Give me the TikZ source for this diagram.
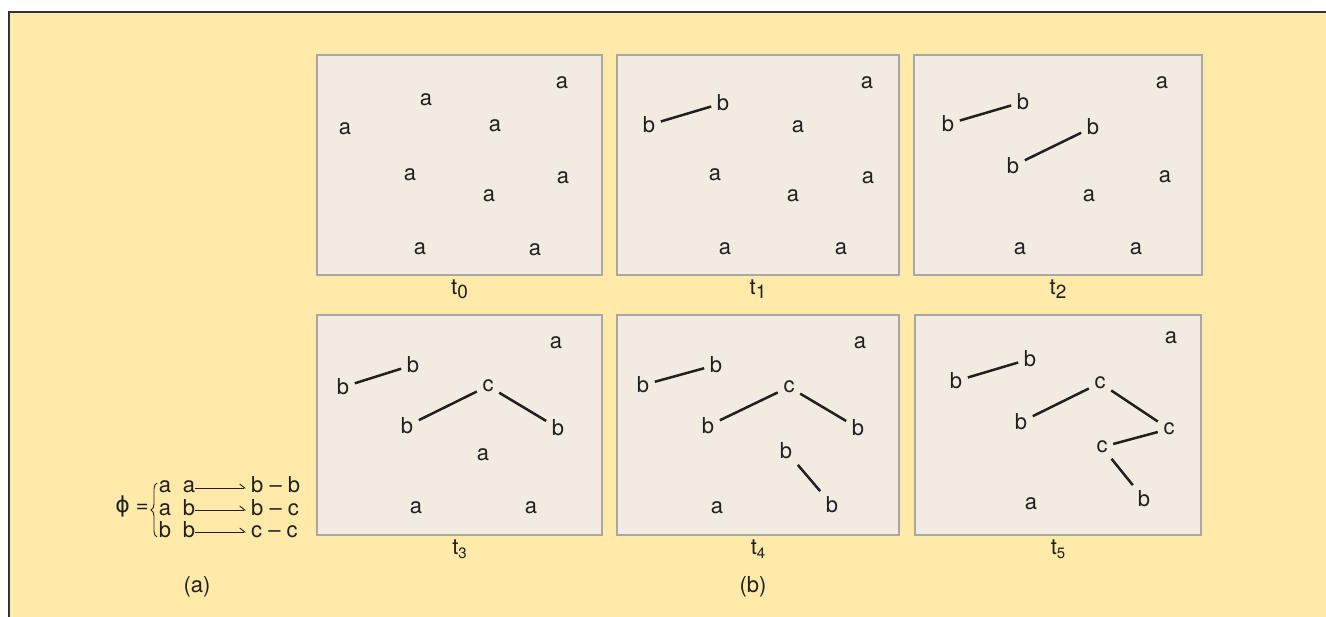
\documentclass[tikz,border=0pt]{standalone}
\usepackage{fontspec}
\setmainfont{TeX Gyre Heros}
\newfontfamily\phifont{DejaVu Sans}
\usepackage{xcolor}
\usetikzlibrary{positioning, arrows.meta, decorations.pathreplacing}

\definecolor{bgyellow}{HTML}{FFEAA9}
\definecolor{panelfill}{HTML}{F1EBE1}
\definecolor{panelgray}{HTML}{A7A7A7}
\definecolor{framegray}{HTML}{333333}
\definecolor{ink}{HTML}{231F20}

\newcommand{\ttag}[2]{t\raisebox{-4pt}{\fontsize{#2}{#2}\selectfont #1}}

\begin{document}
\begin{tikzpicture}[
    x=1pt, y=-1pt,
    panel/.style={draw=panelgray, line width=1.2pt, fill=panelfill, rectangle, inner sep=0pt, minimum height=220pt},
    sym/.style={inner sep=5.5pt, text=ink, font=\fontsize{22}{26}\selectfont},
    tlabel/.style={inner sep=0pt, text=ink, font=\fontsize{22}{26}\selectfont},
    rule/.style={inner sep=0pt, text=ink, font=\fontsize{22}{26}\selectfont, text height=10pt, text depth=0pt},
    bond/.style={draw=ink, line width=2.5pt},
    harp/.style={draw=ink, line width=0.9pt, -{Straight Barb[left, length=5pt, width=8pt]}, shorten >=5pt}
]
\useasboundingbox (0,0) rectangle (1326,617);

% Background and frame
\fill[bgyellow] (9,12) rectangle (1326,617);
\draw[framegray, line width=1.3pt] (1326,12) -- (9,12) -- (9,617);

% Panels
\node (p0) [panel, minimum width=285pt] at (459.5,165) {};
\node (p1) [panel, minimum width=282pt] at (758,165) {};
\node (p2) [panel, minimum width=288pt] at (1058,165) {};
\node (p3) [panel, minimum width=285pt] at (459.5,425) {};
\node (p4) [panel, minimum width=282pt] at (758,425) {};
\node (p5) [panel, minimum width=286pt] at (1058,425) {};

\node (l0) [tlabel, below=4pt of p0] {\ttag{0}{19}};
\node (l1) [tlabel, below=4pt of p1] {\ttag{1}{19}};
\node (l2) [tlabel, below=4pt of p2] {\ttag{2}{19}};
\node (l3) [tlabel, below=4pt of p3] {\ttag{3}{15}};
\node (l4) [tlabel, below=4pt of p4] {\ttag{4}{15}};
\node (l5) [tlabel, below=4pt of p5] {\ttag{5}{15}};

% t0
\node (p0a1) [sym] at (562,83) {a};
\node (p0a2) [sym] at (426,100) {a};
\node (p0a3) [sym] at (345,129) {a};
\node (p0a4) [sym] at (495,126) {a};
\node (p0a5) [sym] at (410,175) {a};
\node (p0a6) [sym] at (563,178) {a};
\node (p0a7) [sym] at (489,196) {a};
\node (p0a8) [sym] at (420,249) {a};
\node (p0a9) [sym] at (535,250) {a};

% t1
\node (p1a1) [sym] at (867,83) {a};
\node (p1b1) [sym] at (649,125) {b};
\node (p1b2) [sym] at (723,103) {b};
\node (p1a2) [sym] at (798,127) {a};
\node (p1a3) [sym] at (715,175) {a};
\node (p1a4) [sym] at (868,178) {a};
\node (p1a5) [sym] at (793,196) {a};
\node (p1a6) [sym] at (725,249) {a};
\node (p1a7) [sym] at (841,249) {a};

% t2
\node (p2a1) [sym] at (1162,83) {a};
\node (p2b1) [sym] at (948,124) {b};
\node (p2b2) [sym] at (1023,102) {b};
\node (p2b3) [sym] at (1013,166) {b};
\node (p2b4) [sym] at (1093,127) {b};
\node (p2a2) [sym] at (1165,177) {a};
\node (p2a3) [sym] at (1089,196) {a};
\node (p2a4) [sym] at (1020,249) {a};
\node (p2a5) [sym] at (1136,249) {a};

% t3
\node (p3a1) [sym] at (556,343) {a};
\node (p3b1) [sym] at (343,387) {b};
\node (p3b2) [sym] at (413,365) {b};
\node (p3c1) [sym] at (488,386) {c};
\node (p3b3) [sym] at (407,426) {b};
\node (p3b4) [sym] at (558,428) {b};
\node (p3a2) [sym] at (483,455) {a};
\node (p3a3) [sym] at (416,508) {a};
\node (p3a4) [sym] at (531,508) {a};

% t4
\node (p4a1) [sym] at (860,343) {a};
\node (p4b1) [sym] at (643,385) {b};
\node (p4b2) [sym] at (716,365) {b};
\node (p4c1) [sym] at (789,387) {c};
\node (p4b3) [sym] at (708,426) {b};
\node (p4b4) [sym] at (858,428) {b};
\node (p4b5) [sym] at (786,451) {b};
\node (p4b6) [sym] at (832,505) {b};
\node (p4a2) [sym] at (717,508) {a};

% t5
\node (p5a1) [sym] at (1171,338) {a};
\node (p5b1) [sym] at (956,381) {b};
\node (p5b2) [sym] at (1030,359) {b};
\node (p5c1) [sym] at (1100,383) {c};
\node (p5b3) [sym] at (1021,422) {b};
\node (p5c2) [sym] at (1169,429) {c};
\node (p5c3) [sym] at (1102,447) {c};
\node (p5b4) [sym] at (1144,499) {b};
\node (p5a2) [sym] at (1031,504) {a};

% Bonds
\draw[bond] (p1b1) -- (p1b2);
\draw[bond] (p2b1) -- (p2b2);
\draw[bond] (p2b3) -- (p2b4);
\draw[bond] (p3b1) -- (p3b2);
\draw[bond] (p3b3) -- (p3c1);
\draw[bond] (p3c1) -- (p3b4);
\draw[bond] (p4b1) -- (p4b2);
\draw[bond] (p4b3) -- (p4c1);
\draw[bond] (p4c1) -- (p4b4);
\draw[bond] (p4b5) -- (p4b6);
\draw[bond] (p5b1) -- (p5b2);
\draw[bond] (p5b3) -- (p5c1);
\draw[bond] (p5c1) -- (p5c2);
\draw[bond] (p5c2) -- (p5c3);
\draw[bond] (p5c3) -- (p5b4);

% Rule set
\node (phi) [tlabel, anchor=east] at (149,506) {{\phifont ϕ} =};
\draw[ink, line width=0.9pt, decorate, decoration={brace, amplitude=6pt}] (157,537) -- (157,483);

\node (r1p) [rule] at (165,488) {a};
\node (r1q) [rule] at (189,488) {a};
\node (r1r) [rule, anchor=west] at (251,488) {b – b};
\node (r2p) [rule] at (165,510) {a};
\node (r2q) [rule] at (189,510) {b};
\node (r2r) [rule, anchor=west] at (251,510) {b – c};
\node (r3p) [rule] at (165,532) {b};
\node (r3q) [rule] at (189,532) {b};
\node (r3r) [rule, anchor=west] at (251,532) {c – c};

\draw[harp] (r1q) -- (r1r);
\draw[harp] (r2q) -- (r2r);
\draw[harp] (r3q) -- (r3r);

\node (capa) [tlabel] at (197,587) {(a)};
\node (capb) [tlabel] at (753,587) {(b)};

\end{tikzpicture}
\end{document}
